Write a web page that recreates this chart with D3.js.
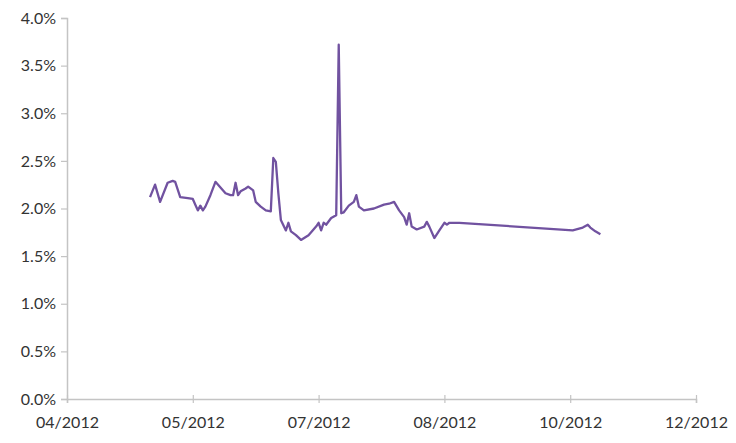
<!DOCTYPE html>
<html>
<head>
<meta charset="utf-8">
<script src="https://cdn.jsdelivr.net/npm/d3@7"></script>
<style>
  html, body { margin: 0; padding: 0; background: #fff; }
  svg { display: block; }
  text { font-family: "Lato", "Open Sans", sans-serif; fill: #333; }
</style>
</head>
<body>
<svg id="chart" width="736" height="443"></svg>
<script>
// ---- data ----
const dates = [
  "2012-05-04","2012-05-06","2012-05-08","2012-05-11","2012-05-13","2012-05-14","2012-05-16","2012-05-19",
  "2012-05-21","2012-05-22","2012-05-23","2012-05-24","2012-05-25","2012-05-26","2012-05-28","2012-05-30",
  "2012-06-01","2012-06-03","2012-06-05","2012-06-06","2012-06-07","2012-06-08","2012-06-09","2012-06-11",
  "2012-06-12","2012-06-14","2012-06-15","2012-06-17","2012-06-19","2012-06-21","2012-06-22","2012-06-23",
  "2012-06-24","2012-06-25","2012-06-27","2012-06-28","2012-06-29","2012-07-01","2012-07-03","2012-07-06",
  "2012-07-09","2012-07-10","2012-07-11","2012-07-12","2012-07-13","2012-07-15","2012-07-17","2012-07-18",
  "2012-07-19","2012-07-20","2012-07-22","2012-07-24","2012-07-25","2012-07-26","2012-07-28","2012-08-01",
  "2012-08-05","2012-08-07","2012-08-09","2012-08-11","2012-08-13","2012-08-14","2012-08-15","2012-08-16",
  "2012-08-18","2012-08-21","2012-08-22","2012-08-23","2012-08-25","2012-08-27","2012-08-29","2012-08-30",
  "2012-08-31","2012-09-04","2012-10-19","2012-10-23","2012-10-25","2012-10-26","2012-10-28","2012-10-30"
];
const values = [
  0.0212,0.0225,0.0207,0.0227,0.0229,0.0228,0.0212,0.0211,
  0.0210,0.0204,0.0198,0.0203,0.0198,0.0202,0.0214,0.0228,
  0.0222,0.0216,0.0214,0.0214,0.0227,0.0214,0.0218,0.0221,
  0.0223,0.0219,0.0207,0.0202,0.0198,0.0197,0.0253,0.0249,
  0.0216,0.0188,0.0177,0.0185,0.0176,0.0172,0.0167,0.0172,
  0.0181,0.0185,0.0177,0.0185,0.0183,0.0190,0.0193,0.0372,
  0.0195,0.0196,0.0203,0.0207,0.0214,0.0202,0.0198,0.0200,
  0.0204,0.0205,0.0207,0.0198,0.0191,0.0183,0.0195,0.0181,
  0.0178,0.0181,0.0186,0.0181,0.0169,0.0177,0.0185,0.0183,
  0.0185,0.0185,0.0177,0.0180,0.0183,0.0180,0.0176,0.0173
];
const yTicks = [0, 0.005, 0.01, 0.015, 0.02, 0.025, 0.03, 0.035, 0.04];
const xStart = "2012-04-01";
const xStepDays = 50;
const xTickCount = 6;

// ---- drawing ----
const parse = d3.timeParse("%Y-%m-%d");
const data = dates.map((d, i) => ({ date: parse(d), value: values[i] }));
const start = parse(xStart);
const xTicks = d3.range(xTickCount).map(i => d3.timeDay.offset(start, i * xStepDays));

const svg = d3.select("#chart");
const x = d3.scaleTime().domain([xTicks[0], xTicks[xTicks.length - 1]]).range([67, 696]);
const y = d3.scaleLinear().domain([0, 0.04]).range([399, 18]);

const axisColor = "#c4c4c4";

const yAxis = svg.append("g")
  .attr("transform", "translate(67,0)")
  .call(d3.axisLeft(y).tickValues(yTicks).tickFormat(d3.format(".1%")).tickSize(6).tickPadding(5));
yAxis.select(".domain").attr("stroke", axisColor).attr("stroke-width", 1.5);
yAxis.selectAll(".tick line").attr("stroke", axisColor).attr("stroke-width", 1.2);
yAxis.selectAll(".tick text").style("font-size", "16px").style("font-family", "Lato, sans-serif").attr("fill", "#333");

const xAxis = svg.append("g")
  .attr("transform", "translate(0,399)")
  .call(d3.axisBottom(x).tickValues(xTicks).tickFormat(d3.timeFormat("%m/%Y")).tickSize(4).tickPadding(14));
xAxis.select(".domain").attr("stroke", axisColor).attr("stroke-width", 1.5);
xAxis.selectAll(".tick line").attr("stroke", axisColor).attr("stroke-width", 1.2).attr("y1", -4);
xAxis.selectAll(".tick text").style("font-size", "16px").style("font-family", "Lato, sans-serif").attr("fill", "#333");

const line = d3.line().x(d => x(d.date)).y(d => y(d.value));
svg.append("path")
  .datum(data)
  .attr("fill", "none")
  .attr("stroke", "#7152a0")
  .attr("stroke-width", 2.3)
  .attr("stroke-linejoin", "round")
  .attr("d", line);
</script>
</body>
</html>
